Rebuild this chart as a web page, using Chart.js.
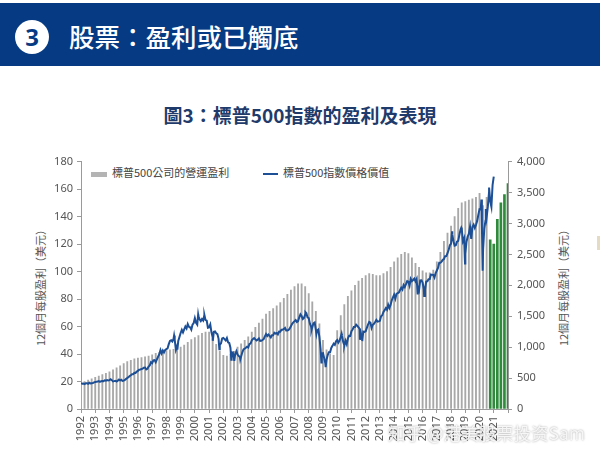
<!DOCTYPE html>
<html>
<head>
<meta charset="utf-8">
<script src="https://cdn.jsdelivr.net/npm/chart.js@4.4.0/dist/chart.umd.min.js"></script>
<style>
  body { margin: 0; width: 600px; height: 456px; background: #fff; position: relative; overflow: hidden;
         font-family: 'Noto Sans CJK TC', 'Noto Sans', sans-serif; }
  #banner { position: absolute; left: 0; top: 3px; width: 600px; height: 63px; background: #063b84; }
  #badge { position: absolute; left: 15px; top: 20px; width: 34px; height: 34px; border-radius: 50%;
           background: #fff; color: #063b84; font: bold 24px 'Noto Sans', sans-serif;
           text-align: center; line-height: 34px; }
  #headline { position: absolute; left: 69px; top: 17px; color: #fff; font-size: 25.5px; line-height: 38px; font-weight: 500; }
  #title { position: absolute; left: 0; width: 600px; top: 101px; text-align: center;
           color: #1f3b6b; font-weight: bold; font-size: 19px; line-height: 28px; }
  .leg { position: absolute; top: 164px; font-size: 11px; color: #444; line-height: 16px; }
  .ytitle { position: absolute; top: 279px; width: 130px; margin-left: -65px; text-align: center;
            font-size: 11px; color: #555; line-height: 12px; transform: rotate(-90deg); }
  #wrap { position: absolute; left: 0; top: 150px; width: 600px; height: 306px; }
  #mark { position: absolute; left: 388px; top: 420px; font-size: 17.5px; color: rgba(255,255,255,0.85);
          text-shadow: 0 0 2px rgba(90,90,90,0.6); white-space: nowrap; }
</style>
</head>
<body>
<div id="banner"></div>
<div id="badge">3</div>
<div id="headline">股票：盈利或已觸底</div>
<div id="title">圖3：標普500指數的盈利及表現</div>

<div class="leg" style="left:91px;"><span style="display:inline-block;width:16px;height:5px;background:#b4b4b4;vertical-align:middle;margin-right:5px;"></span>標普500公司的營運盈利</div>
<div class="leg" style="left:263px;"><span style="display:inline-block;width:15px;height:2px;background:#1c4f96;vertical-align:middle;margin-right:5px;"></span>標普500指數價格價值</div>

<div class="ytitle" style="left:40px;">12個月每股盈利（美元）</div>
<div class="ytitle" style="left:563px;">12個月每股盈利（美元）</div>

<div id="wrap"><canvas id="chart"></canvas></div>
<div id="mark">知乎 @港美股票投资Sam</div>
<div style="position:absolute;left:597px;top:236px;width:3px;height:14px;background:#e4dcc2;"></div>

<script>
    // 年份刻度
    const yearLabels = ['1992','1993','1994','1995','1996','1997','1998','1999','2000','2001',
        '2002','2003','2004','2005','2006','2007','2008','2009','2010','2011',
        '2012','2013','2014','2015','2016','2017','2018','2019','2020','2021'];

    // 營運盈利（每季，1992 起）
    const earnings = [
        19, 20, 21, 22,          23, 24, 25, 26,
        27, 28.5, 30, 31.5,      33, 34.5, 35.5, 36.5,
        37, 37.5, 38, 38.5,      39.5, 40.5, 41, 41.5,
        42.5, 43, 43.5, 44,      45, 46.5, 48.5, 50.5,
        52, 53.5, 55, 56,        56, 51, 47, 42,
        39, 38.5, 40, 42,        45, 47.5, 50, 52.5,
        56, 59.5, 62.5, 65.5,    69, 71, 73, 75,
        77.5, 80.5, 83.5, 86.5,  89, 91, 91, 89,
        84, 78, 71, 62,          50, 43, 40, 39,
        57, 68, 76, 82,          86, 90, 93, 95,
        97, 98.5, 98, 97,        97, 98.5, 100, 103,
        107, 110, 112.5, 114,    113, 110, 106, 103,
        100.5, 99, 99, 101,      107, 114, 122, 128,
        133, 140, 146, 150,      151, 152, 153, 154,
        157, 148, 154
    ];
    // 預測值（綠色）
    const estimates = [123, 120, 138, 150, 156, 164];

    // 標普500 月末收市（1991年12月起）
    const spxMonthEnd = [
        417,
        409, 413, 404, 415, 415, 408, 424, 414, 418, 419, 431, 436,
        439, 443, 452, 440, 450, 451, 448, 464, 459, 468, 462, 467,
        482, 467, 446, 451, 457, 444, 458, 476, 463, 472, 454, 459,
        470, 487, 501, 515, 533, 545, 562, 562, 584, 582, 605, 616,
        636, 640, 646, 654, 669, 671, 640, 652, 687, 705, 757, 741,
        786, 791, 757, 801, 848, 885, 954, 900, 947, 915, 955, 970,
        980, 1049, 1102, 1112, 1091, 1134, 1121, 957, 1017, 1099, 1164, 1229,
        1280, 1238, 1286, 1335, 1302, 1373, 1329, 1320, 1283, 1363, 1389, 1469,
        1395, 1366, 1499, 1452, 1421, 1455, 1431, 1518, 1437, 1429, 1315, 1320,
        1366, 1240, 1160, 1250, 1256, 1224, 1211, 1134, 1041, 1060, 1140, 1148,
        1130, 1107, 1147, 1077, 1067, 990, 912, 916, 815, 886, 936, 880,
        856, 841, 848, 917, 964, 975, 990, 1008, 996, 1051, 1058, 1112,
        1131, 1145, 1126, 1107, 1121, 1141, 1102, 1104, 1115, 1130, 1174, 1212,
        1181, 1204, 1181, 1157, 1192, 1191, 1234, 1220, 1229, 1207, 1250, 1248,
        1280, 1281, 1295, 1311, 1270, 1270, 1277, 1304, 1336, 1378, 1401, 1418,
        1438, 1407, 1421, 1482, 1531, 1503, 1455, 1474, 1527, 1549, 1481, 1468,
        1379, 1331, 1323, 1386, 1400, 1280, 1267, 1283, 1166, 969, 896, 903,
        826, 735, 798, 873, 919, 919, 988, 1021, 1057, 1036, 1096, 1115,
        1074, 1105, 1169, 1187, 1089, 1031, 1102, 1049, 1141, 1183, 1181, 1258,
        1286, 1327, 1326, 1364, 1345, 1321, 1292, 1219, 1131, 1253, 1247, 1258,
        1312, 1366, 1409, 1398, 1310, 1362, 1379, 1407, 1441, 1412, 1416, 1426,
        1498, 1515, 1569, 1598, 1631, 1606, 1686, 1633, 1682, 1757, 1806, 1848,
        1783, 1860, 1872, 1884, 1924, 1960, 1931, 2003, 1972, 2018, 2068, 2059,
        1995, 2105, 2068, 2086, 2107, 2063, 2104, 1972, 1920, 2079, 2080, 2044,
        1940, 1932, 2060, 2065, 2097, 2099, 2174, 2171, 2168, 2126, 2199, 2239,
        2279, 2364, 2363, 2384, 2412, 2423, 2470, 2472, 2519, 2575, 2648, 2674,
        2824, 2714, 2641, 2648, 2705, 2718, 2816, 2902, 2914, 2712, 2760, 2507,
        2704, 2785, 2834, 2946, 2752, 2942, 2980, 2927, 2977, 3038, 3141, 3231,
        3226, 2954, 2585, 2912, 3044, 3100, 3271, 3500, 3363, 3270, 3622, 3756
    ];
    // 月內高低點
    const spxSwings = [
        [1998.54, 1187], [1998.77, 959], [2000.23, 1527], [2000.67, 1520],
        [2001.26, 1103], [2001.72, 966], [2002.56, 797], [2002.77, 777],
        [2003.19, 800], [2007.77, 1565], [2008.19, 1273], [2008.54, 1215],
        [2008.89, 752], [2009.19, 677], [2010.31, 1217], [2010.50, 1022],
        [2011.60, 1119], [2011.76, 1099], [2015.65, 1867], [2016.11, 1829],
        [2018.07, 2873], [2018.72, 2931], [2018.98, 2351], [2020.13, 3386],
        [2020.22, 2237], [2020.44, 3232], [2020.67, 3580]
    ];

    const barPoints = earnings.map((v, i) => ({ x: 1992 + i * 0.25, y: v }));
    const estPoints = estimates.map((v, i) => ({ x: 1992 + (earnings.length + i) * 0.25, y: v }));
    const linePoints = spxMonthEnd.map((v, i) => ({ x: 1992 + i / 12, y: v }))
        .concat(spxSwings.map(p => ({ x: p[0], y: p[1] })))
        .sort((a, b) => a.x - b.x);

    const tickFont = { family: "'Noto Sans', sans-serif", size: 11 };
    const axisGrey = '#9a9a9a';

    const ctx = document.getElementById('chart').getContext('2d');
    new Chart(ctx, {
        type: 'bar',
        data: {
            datasets: [
                {
                    type: 'line',
                    data: linePoints,
                    yAxisID: 'y1',
                    borderColor: '#1c4f96',
                    borderWidth: 2,
                    pointRadius: 0,
                    tension: 0,
                    order: 0
                },
                {
                    data: barPoints,
                    yAxisID: 'y',
                    backgroundColor: '#a8a8a8',
                    barThickness: 1.2,
                    grouped: false,
                    order: 1
                },
                {
                    data: estPoints,
                    yAxisID: 'y',
                    backgroundColor: '#2f8a3c',
                    barThickness: 2,
                    grouped: false,
                    order: 1
                }
            ]
        },
        options: {
            responsive: true,
            maintainAspectRatio: false,
            animation: false,
            layout: { padding: { top: 11, left: 0, right: 0, bottom: 0 } },
            plugins: { legend: { display: false }, tooltip: { enabled: false } },
            scales: {
                x: {
                    type: 'linear',
                    min: 1992,
                    max: 2022,
                    offset: false,
                    grid: { offset: false, drawOnChartArea: false, tickLength: 4, color: axisGrey },
                    border: { color: axisGrey },
                    ticks: {
                        stepSize: 1,
                        autoSkip: false,
                        maxRotation: 90,
                        minRotation: 90,
                        padding: 3,
                        color: '#555',
                        font: tickFont,
                        callback: v => yearLabels[v - 1992] || ''
                    },
                    afterFit: s => { s.height = 47; }
                },
                y: {
                    position: 'left',
                    min: 0,
                    max: 180,
                    grid: { drawOnChartArea: false, tickLength: 4, color: axisGrey },
                    border: { color: axisGrey },
                    ticks: { stepSize: 20, padding: 4, color: '#555', font: tickFont },
                    afterFit: s => { s.width = 81; }
                },
                y1: {
                    position: 'right',
                    min: 0,
                    max: 4000,
                    grid: { drawOnChartArea: false, tickLength: 4, color: axisGrey },
                    border: { color: axisGrey },
                    ticks: {
                        stepSize: 500, padding: 5, color: '#555', font: tickFont,
                        callback: v => v.toLocaleString('en-US')
                    },
                    afterFit: s => { s.width = 92; }
                }
            }
        }
    });
</script>
</body>
</html>
